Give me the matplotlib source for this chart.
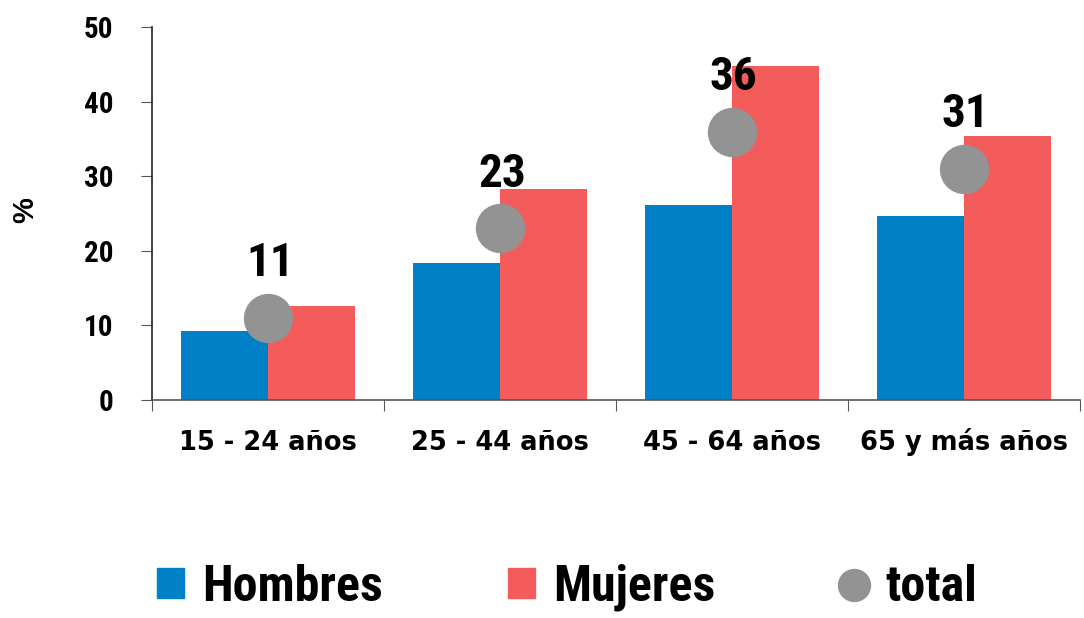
import numpy as np
import matplotlib.pyplot as plt
from matplotlib.lines import Line2D
from matplotlib.patches import Patch

categories = ["15 - 24 años", "25 - 44 años", "45 - 64 años", "65 y más años"]
hombres = [9.3, 18.4, 26.2, 24.7]
mujeres = [12.6, 28.3, 44.8, 35.4]
total = [11, 23, 36, 31]

blue = "#0080c6"
red = "#f45b5b"
grey = "#939393"
narrow = ["Roboto Condensed", "DejaVu Sans"]

fig = plt.figure(figsize=(10.84, 6.18), dpi=100)
ax = fig.add_axes([0.140, 0.353, 0.856, 0.603])

x = np.arange(len(categories))
w = 0.375
ax.bar(x - w / 2, hombres, width=w, color=blue, zorder=2)
ax.bar(x + w / 2, mujeres, width=w, color=red, zorder=2)
ax.plot(x, total, linestyle="none", marker="o", markersize=34.5, color=grey, zorder=3)

for xi, t in zip(x, total):
    ax.annotate(str(t), (xi, t), xytext=(1.5, 30), textcoords="offset points",
                ha="center", va="baseline", fontsize=34, fontweight="bold",
                family=narrow, color="black")

ax.set_xlim(-0.5, len(categories) - 0.5)
ax.set_ylim(0, 50)
ax.set_yticks(range(0, 51, 10))
ax.set_yticklabels([str(v) for v in range(0, 51, 10)], fontsize=21,
                   fontweight="bold", family=narrow)
ax.set_xticks(np.arange(-0.5, len(categories), 1.0))
ax.set_xticklabels([])
ax.set_xticks(x, minor=True)
ax.set_xticklabels(categories, minor=True, fontsize=18.5, fontweight="bold",
                   family="DejaVu Sans", va="baseline")
ax.tick_params(axis="x", which="minor", length=0, pad=36)
ax.tick_params(axis="x", which="major", length=8, color="#555555", direction="out")
ax.tick_params(axis="y", length=8, color="#555555", direction="out", pad=19.5)

for s in ["top", "right"]:
    ax.spines[s].set_visible(False)
ax.spines["left"].set_color("#222222")
ax.spines["bottom"].set_color("#555555")
ax.spines["left"].set_linewidth(1.2)
ax.spines["bottom"].set_linewidth(1.2)

fig.text(0.023, 0.66, "%", rotation=90, fontsize=21, fontweight="bold",
         family=["Liberation Sans", "DejaVu Sans"], ha="center", va="center")

handles = [Patch(color=blue), Patch(color=red),
           Line2D([], [], linestyle="none", marker="o", markersize=23, color=grey)]
leg = fig.legend(handles, ["Hombres", "Mujeres", "total"], loc="center left",
                 bbox_to_anchor=(0.145, 0.049), ncol=3, frameon=False,
                 prop={"family": narrow, "weight": "bold", "size": 36},
                 handlelength=0.54, handleheight=0.54, handletextpad=0.36,
                 columnspacing=2.5, borderpad=0, borderaxespad=0)

fig.savefig("out.png", dpi=100)
plt.close()
